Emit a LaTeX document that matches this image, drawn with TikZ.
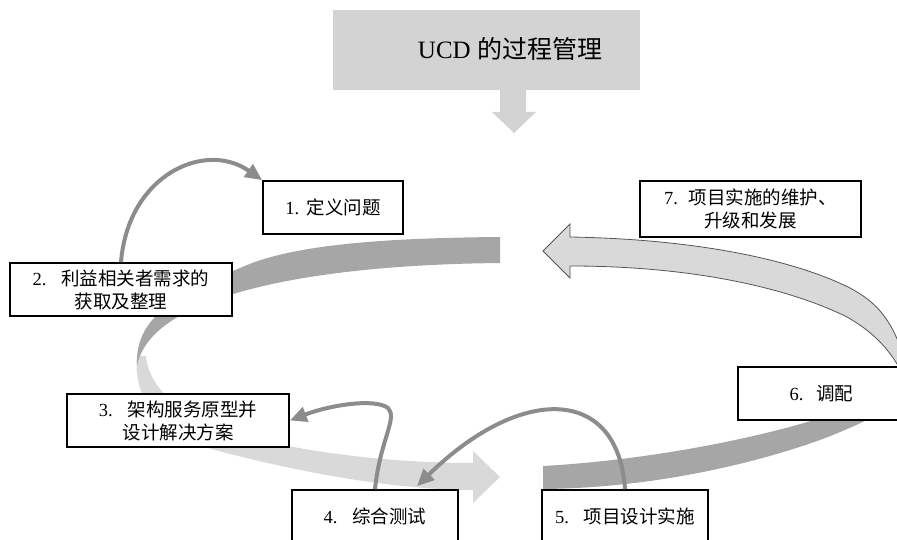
\documentclass[tikz,border=0pt]{standalone}
\usepackage{fontspec}
\setmainfont{Liberation Serif}
\newfontfamily\cjk{Noto Sans CJK SC}
\newcommand\zhtext[1]{{\cjk #1}}
\usetikzlibrary{arrows.meta,calc}
\definecolor{ribdark}{HTML}{A6A6A6}
\definecolor{riblight}{HTML}{D9D9D9}
\definecolor{titlegray}{HTML}{D3D3D3}
\definecolor{linkgray}{HTML}{8C8C8C}
\definecolor{edgegray}{HTML}{555555}
\tikzset{
  stepbox/.style={draw=black, line width=1.6pt, fill=white, align=center, inner sep=0pt,
    font=\fontsize{18.5}{23}\selectfont},
  link/.style={draw=linkgray, line width=4pt, -{Triangle[length=17pt,width=15pt]}},
  darkband/.style={fill=ribdark},
  lightband/.style={fill=riblight},
  outlineband/.style={fill=riblight, draw=edgegray, line width=0.8pt},
}
\begin{document}
\begin{tikzpicture}[x=1pt,y=-1pt]
\useasboundingbox (0,0) rectangle (897,540);
\clip (0,0) rectangle (897,540);

% title
\fill[titlegray] (333,10) rectangle (640,90);
\node[font=\fontsize{25}{29}\selectfont] (title) at (510,49) {UCD \zhtext{的过程管理}};
\fill[titlegray] (500,89) -- (526,89) -- (526,112) -- (536,112) -- (514,133) -- (492,112) -- (500,112) -- cycle;

% left loop: light lower part
\fill[lightband] (137,356) .. controls (133,400) and (160,435) .. (215,450)
  .. controls (290,470) and (390,490) .. (473,490) -- (473,503) -- (500,477) -- (473,451) -- (473,463)
  .. controls (390,463) and (310,452) .. (260,440)
  .. controls (190,422) and (150,395) .. (146,356) -- cycle;
% left loop: dark upper part
\fill[darkband] (500,237) .. controls (380,238) and (290,245) .. (240,268)
  .. controls (175,295) and (135,318) .. (137,365)
  .. controls (143,340) and (165,318) .. (215,300)
  .. controls (290,273) and (400,264) .. (500,263) -- cycle;

% right: dark band
\fill[darkband] (543,466) .. controls (650,460) and (760,438) .. (830,415)
  .. controls (870,400) and (900,375) .. (915,350) -- (925,385)
  .. controls (900,405) and (860,425) .. (820,440)
  .. controls (750,465) and (650,488) .. (543,489) -- cycle;
% right: light outlined arrow
\filldraw[outlineband] (543,251) -- (570,224) -- (570,237)
  .. controls (690,239) and (790,258) .. (850,288)
  .. controls (878,303) and (892,320) .. (905,360) -- (905,380)
  .. controls (895,355) and (875,332) .. (845,316)
  .. controls (785,287) and (690,266) .. (570,266) -- (570,278) -- cycle;

% boxes
\node[stepbox, minimum width=140pt, minimum height=53pt] (b1) at (333,207.5) {1.\hspace{0.4em}\zhtext{定义问题}};
\node[stepbox, minimum width=222pt, minimum height=53pt] (b2) at (121,289.5) {2.\hspace{0.8em}\zhtext{利益相关者需求的}\\\zhtext{获取及整理}};
\node[stepbox, minimum width=222pt, minimum height=53pt] (b3) at (178,420.5) {3.\hspace{0.8em}\zhtext{架构服务原型并}\\\zhtext{设计解决方案}};
\node[stepbox, minimum width=166pt, minimum height=52pt] (b4) at (375,516) {4.\hspace{0.8em}\zhtext{综合测试}};
\node[stepbox, minimum width=166pt, minimum height=52pt] (b5) at (625,516) {5.\hspace{0.8em}\zhtext{项目设计实施}};
\node[stepbox, minimum width=167pt, minimum height=53pt] (b6) at (821.5,393.5) {6.\hspace{0.7em}\zhtext{调配}};
\node[stepbox, minimum width=221pt, minimum height=56pt] (b7) at (750.5,209) {7.\hspace{0.6em}\zhtext{项目实施的维护、}\\\zhtext{升级和发展}};

% connectors
\coordinate (c4) at ($(b4.north)+(42,-3)$);
\draw[link] (b2.north) .. controls (128,175) and (205,140) .. (b1.north west);
\draw[link] (b4.north) .. controls (380,440) and (398,418) .. (388,408) .. controls (375,398) and (330,405) .. (b3.east);
\draw[link] (b5.north) .. controls (618,385) and (520,385) .. (c4);
\end{tikzpicture}
\end{document}
